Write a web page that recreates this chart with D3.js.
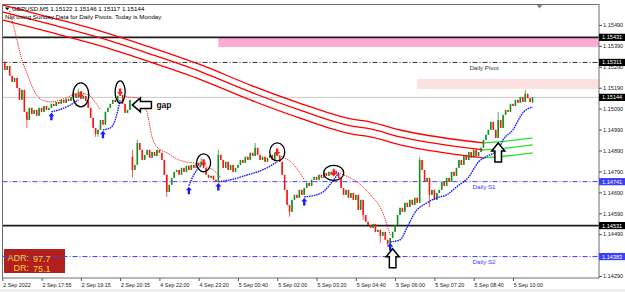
<!doctype html>
<html>
<head>
<meta charset="utf-8">
<title>GBPUSD M5</title>
<style>
    html, body { margin: 0; padding: 0; background: #fff; }
    svg { display: block; font-family: "Liberation Sans", Arial, sans-serif; }
</style>
</head>
<body>
<svg id="chart" width="625" height="292"></svg>

<script src="https://d3js.org/d3.v7.min.js"></script>
<script>

    /* --- data --- */

    var symbol = 'GBPUSD,M5';
    var lastOhlc = [1.15122, 1.15146, 1.15117, 1.15144];
    var notice = 'Not using Sunday Data for Daily Pivots.  Today is Monday';
    var adr = 97.7, dr = 75.1;

    // M5 closes, bar 0 = 2 Sep 16:35, weekend gap after bar 52
    var closes = [
        1.15314, 1.15275, 1.15294, 1.15247, 1.15218, 1.15237, 1.15189, 1.15132, 1.15180, 1.15075,
        1.15036, 1.15094, 1.15065, 1.15084, 1.15056, 1.15094, 1.15075, 1.15103, 1.15084, 1.15094,
        1.15113, 1.15103, 1.15122, 1.15113, 1.15132, 1.15118, 1.15137, 1.15127, 1.15146, 1.15161,
        1.15142, 1.15165, 1.15137, 1.15151, 1.15127, 1.15094, 1.15046, 1.14998, 1.14969, 1.14989,
        1.15036, 1.15013, 1.15075, 1.15094, 1.15113, 1.15132, 1.15122, 1.15151, 1.15156, 1.15113,
        1.15070, 1.15084, 1.15132, 1.14797, 1.14821, 1.14926, 1.14893, 1.14845, 1.14869, 1.14893,
        1.14855, 1.14883, 1.14864, 1.14893, 1.14879, 1.14845, 1.14774, 1.14692, 1.14726, 1.14759,
        1.14788, 1.14797, 1.14774, 1.14807, 1.14788, 1.14817, 1.14797, 1.14821, 1.14807, 1.14831,
        1.14817, 1.14836, 1.14807, 1.14774, 1.14759, 1.14769, 1.14750, 1.14740, 1.14869, 1.14845,
        1.14807, 1.14836, 1.14797, 1.14821, 1.14788, 1.14807, 1.14821, 1.14845, 1.14831, 1.14860,
        1.14845, 1.14879, 1.14864, 1.14903, 1.14869, 1.14845, 1.14860, 1.14836, 1.14855, 1.14869,
        1.14845, 1.14879, 1.14864, 1.14836, 1.14774, 1.14702, 1.14630, 1.14597, 1.14654, 1.14678,
        1.14664, 1.14702, 1.14678, 1.14711, 1.14735, 1.14721, 1.14750, 1.14764, 1.14750, 1.14774,
        1.14759, 1.14783, 1.14769, 1.14788, 1.14774, 1.14793, 1.14778, 1.14759, 1.14711, 1.14678,
        1.14702, 1.14664, 1.14687, 1.14654, 1.14678, 1.14606, 1.14654, 1.14582, 1.14549, 1.14534,
        1.14520, 1.14539, 1.14501, 1.14511, 1.14482, 1.14501, 1.14463, 1.14444, 1.14472, 1.14501,
        1.14534, 1.14582, 1.14616, 1.14597, 1.14640, 1.14620, 1.14654, 1.14630, 1.14664, 1.14640,
        1.14845, 1.14797, 1.14740, 1.14759, 1.14678, 1.14702, 1.14654, 1.14687, 1.14702, 1.14740,
        1.14721, 1.14759, 1.14740, 1.14788, 1.14769, 1.14807, 1.14845, 1.14821, 1.14869, 1.14845,
        1.14883, 1.14855, 1.14893, 1.14864, 1.14883, 1.14903, 1.14941, 1.14965, 1.14989, 1.15027,
        1.14989, 1.14950, 1.15036, 1.14998, 1.15060, 1.15084, 1.15075, 1.15113, 1.15103, 1.15132,
        1.15118, 1.15146, 1.15122, 1.15161, 1.15140, 1.15122, 1.15144
    ];
    // opens equal the previous close except where noted
    var openAt = {0: 1.15419, 53: 1.14860};
    var highAt = {0: 1.15428, 29: 1.15180, 31: 1.15185, 48: 1.15180, 53: 1.14893, 55: 1.14941, 81: 1.14855,
                  88: 1.14893, 103: 1.14926, 112: 1.14893, 135: 1.14807, 170: 1.14860, 202: 1.15075,
                  213: 1.15180, 216: 1.15146};
    var lowAt = {0: 1.15304, 10: 1.14998, 38: 1.14955, 39: 1.14955, 53: 1.14759, 67: 1.14668, 117: 1.14573,
                 147: 1.14558, 154: 1.14448, 157: 1.14429, 174: 1.14620, 216: 1.15117};

    var timeTicks = [0, 16, 32, 48, 64, 80, 96, 112, 128, 144, 160, 176, 192, 208];
    var timeLabels = ['2 Sep 2022', '2 Sep 17:55', '2 Sep 19:15', '2 Sep 20:35', '4 Sep 22:00', '4 Sep 23:20',
                      '5 Sep 00:40', '5 Sep 02:00', '5 Sep 03:20', '5 Sep 04:40', '5 Sep 06:00', '5 Sep 07:20',
                      '5 Sep 08:40', '5 Sep 10:00'];
    var priceTicks = [1.14290, 1.14390, 1.14490, 1.14590, 1.14690, 1.14790, 1.14890,
                      1.14990, 1.15090, 1.15190, 1.15290, 1.15390, 1.15490];

    var pivotNames = ['Daily Pivot', 'Daily S1', 'Daily S2'];
    var pivotPrices = [1.15311, 1.14741, 1.14383];
    var srLines = [1.15431, 1.14531];
    var lastPrice = 1.15144;
    var zoneTop = [1.15431, 1.15232];
    var zoneBottom = [1.15385, 1.15184];
    var zoneStartBar = [88, 169];

    // three envelope lines, sampled
    var maBars   = [0, 19, 40, 60, 81, 101, 121, 142, 150, 162, 183, 196, 206, 216];
    var maUpper  = [1.15586, 1.15528, 1.15461, 1.15385, 1.15299, 1.15203, 1.15117, 1.15041, 1.15026, 1.14988, 1.14945, 1.14926, 1.14936, 1.14950];
    var maMiddle = [1.15553, 1.15495, 1.15428, 1.15352, 1.15266, 1.15170, 1.15084, 1.15008, 1.14993, 1.14955, 1.14912, 1.14893, 1.14903, 1.14917];
    var maLower  = [1.15515, 1.15457, 1.15390, 1.15314, 1.15228, 1.15132, 1.15046, 1.14970, 1.14955, 1.14917, 1.14874, 1.14855, 1.14865, 1.14879];
    var maTurnBar = 196;

    // trailing stops: [bar, price]
    var redTrail = [
        [[3, 1.15557], [5, 1.15467], [8, 1.15323], [10, 1.15261], [12, 1.15199], [16, 1.15132], [20, 1.15122],
         [26, 1.15142], [31, 1.15165], [35, 1.15156], [38, 1.15118], [40, 1.15084]],
        [[48, 1.15156], [51, 1.15146], [55, 1.15142], [57, 1.15108], [59, 1.15070], [61, 1.14955], [63, 1.14907],
         [67, 1.14879], [72, 1.14845], [78, 1.14831]],
        [[82, 1.14831], [83, 1.14812], [86, 1.14797], [89, 1.14759]],
        [[112, 1.14869], [114, 1.14860], [118, 1.14831], [123, 1.14750]],
        [[136, 1.14788], [139, 1.14774], [145, 1.14735], [150, 1.14678], [155, 1.14592], [158, 1.14486]]
    ];
    var blueTrail = [
        [[20, 1.15075], [23, 1.15084], [27, 1.15103], [31, 1.15132]],
        [[41, 1.14989], [44, 1.14998], [46, 1.15036], [48, 1.15132]],
        [[76, 1.14721], [78, 1.14774], [81, 1.14817]],
        [[88, 1.14740], [93, 1.14750], [100, 1.14774], [106, 1.14797], [112, 1.14836]],
        [[123, 1.14668], [130, 1.14687], [134, 1.14735], [137, 1.14783]],
        [[158, 1.14453], [162, 1.14463], [165, 1.14525], [168, 1.14592], [173, 1.14640], [177, 1.14664],
         [181, 1.14678], [185, 1.14716], [190, 1.14764], [194, 1.14836], [197, 1.14860], [202, 1.14893],
         [204, 1.14941], [208, 1.14989], [212, 1.15070], [216, 1.15098]]
    ];

    var sellBars = [32, 48, 82, 112, 135];
    var sellPrices = [1.15156, 1.15170, 1.14831, 1.14883, 1.14783];
    var gapBar = 53, gapPrice = 1.15108;
    var upArrowBars = [159, 202];
    var upArrowPrices = [1.14420, 1.14926];

    /* --- layout & styles --- */

    var plot = {left: 2.5, top: 4.5, right: 599, bottom: 278};
    var zoneColors = ['#ffaad4', '#fde1e1'];
    var pivotColors = ['#333333', '#3d3dff', '#3d3dff'];
    var circleRx = [8, 5, 7, 7.5, 10];
    var circleRy = [12, 11, 9, 9, 7.5];
    var bull = '#13921a', bear = '#ff1414';

    var svg = d3.select('#chart');

    var x = d3.scaleLinear().domain([0, closes.length - 1]).range([2.3, 2.3 + 2.455 * (closes.length - 1)]);
    var y = d3.scaleLinear().domain([1.14290, 1.15490]).range([276, 25]);

    svg.append('rect').attr('width', 625).attr('height', 292).attr('fill', '#fff');
    svg.append('rect').attr('x', 0).attr('y', 289).attr('width', 625).attr('height', 3).attr('fill', '#ececec');

    svg.append('defs').append('clipPath').attr('id', 'plotClip').append('rect')
        .attr('x', plot.left).attr('y', plot.top)
        .attr('width', plot.right - plot.left).attr('height', plot.bottom - plot.top);

    var g = svg.append('g').attr('clip-path', 'url(#plotClip)');

    // zones
    zoneTop.forEach(function(top, i){
        g.append('rect')
            .attr('x', x(zoneStartBar[i])).attr('y', y(top))
            .attr('width', plot.right - x(zoneStartBar[i]))
            .attr('height', y(zoneBottom[i]) - y(top))
            .attr('fill', zoneColors[i]);
    });

    // ADR box (sits under the level lines)
    g.append('rect').attr('x', 4).attr('y', 249).attr('width', 61).attr('height', 24).attr('fill', '#b21f1f');

    // level lines
    g.append('line').attr('x1', plot.left).attr('x2', plot.right)
        .attr('y1', y(lastPrice)).attr('y2', y(lastPrice))
        .attr('stroke', '#c8c8c8').attr('stroke-width', 1);

    srLines.forEach(function(p){
        g.append('line').attr('x1', plot.left).attr('x2', plot.right)
            .attr('y1', y(p)).attr('y2', y(p))
            .attr('stroke', '#1c1c1c').attr('stroke-width', 1.6);
    });

    pivotPrices.forEach(function(p, i){
        g.append('line').attr('x1', plot.left).attr('x2', plot.right)
            .attr('y1', y(p)).attr('y2', y(p))
            .attr('stroke', pivotColors[i]).attr('stroke-width', 1)
            .attr('stroke-dasharray', '5,2,1,2');
        g.append('text').attr('x', 484).attr('y', y(p) + 7.5)
            .attr('text-anchor', 'middle').attr('font-size', 6.2)
            .attr('fill', pivotColors[i]).text(pivotNames[i]);
    });

    // envelope
    var curve = d3.line().x(function(d){ return x(d[0]); }).y(function(d){ return y(d[1]); }).curve(d3.curveMonotoneX);
    [maUpper, maMiddle, maLower].forEach(function(series){
        var pts = maBars.map(function(b, i){ return [b, series[i]]; });
        g.append('path').datum(pts.filter(function(d){ return d[0] <= maTurnBar; }))
            .attr('d', curve).attr('fill', 'none').attr('stroke', '#ff0000').attr('stroke-width', 1.3);
        g.append('path').datum(pts.filter(function(d){ return d[0] >= maTurnBar; }))
            .attr('d', curve).attr('fill', 'none').attr('stroke', '#2be02b').attr('stroke-width', 1.3);
    });

    // candles
    var candles = closes.map(function(c, k){
        var o = (k in openAt) ? openAt[k] : closes[k - 1];
        var h = (k in highAt) ? highAt[k] : Math.max(o, c);
        var l = (k in lowAt) ? lowAt[k] : Math.min(o, c);
        return {k: k, o: o, h: h, l: l, c: c};
    });

    var cg = g.append('g').selectAll('g').data(candles).enter().append('g');
    cg.append('line')
        .attr('x1', function(d){ return x(d.k); }).attr('x2', function(d){ return x(d.k); })
        .attr('y1', function(d){ return y(d.h); }).attr('y2', function(d){ return y(d.l); })
        .attr('stroke', function(d){ return d.c >= d.o ? bull : bear; }).attr('stroke-width', 0.7);
    cg.append('rect')
        .attr('x', function(d){ return x(d.k) - 0.8; }).attr('width', 1.6)
        .attr('y', function(d){ return y(Math.max(d.o, d.c)); })
        .attr('height', function(d){ return Math.max(0.8, Math.abs(y(d.o) - y(d.c))); })
        .attr('fill', function(d){ return d.c >= d.o ? bull : bear; });

    // trailing stops
    redTrail.forEach(function(seg){
        g.append('path').datum(seg).attr('d', curve).attr('fill', 'none')
            .attr('stroke', '#ff2020').attr('stroke-width', 1).attr('stroke-dasharray', '1.2,0.9');
    });
    blueTrail.forEach(function(seg){
        g.append('path').datum(seg).attr('d', curve).attr('fill', 'none')
            .attr('stroke', '#1a1aff').attr('stroke-width', 1.4).attr('stroke-dasharray', '1.6,0.8');
        // buy arrow under the start of each segment
        var ax = x(seg[0][0]), ay = y(seg[0][1]) + 1;
        g.append('path')
            .attr('d', 'M' + ax + ',' + ay + 'l3,3.5h-1.8v4h-2.4v-4h-1.8z')
            .attr('fill', '#1a1aff');
    });

    // sell signals
    sellBars.forEach(function(b, i){
        var cx = x(b), cy = y(sellPrices[i]);
        g.append('path')
            .attr('d', 'M' + cx + ',' + (cy + 3.5) + 'l-3,-3.5h1.8v-3.5h2.4v3.5h1.8z')
            .attr('fill', '#ff1a1a');
        g.append('ellipse').attr('cx', cx).attr('cy', cy)
            .attr('rx', circleRx[i]).attr('ry', circleRy[i])
            .attr('fill', 'none').attr('stroke', '#000').attr('stroke-width', 1.3);
    });

    // outline arrows
    var gx = x(gapBar), gy = y(gapPrice);
    g.append('path')
        .attr('d', 'M' + gx + ',' + gy + 'l8,-7v3.5h11v7h-11v3.5z')
        .attr('fill', '#fff').attr('stroke', '#000').attr('stroke-width', 1.5);
    svg.append('text').attr('x', gx + 24).attr('y', gy + 3)
        .attr('font-size', 8.5).attr('font-weight', 'bold').attr('fill', '#111').text('gap');

    upArrowBars.forEach(function(b, i){
        var ux = x(b), uy = y(upArrowPrices[i]);
        g.append('path')
            .attr('d', 'M' + ux + ',' + uy + 'l6.5,8h-3.2v11h-6.6v-11h-3.2z')
            .attr('fill', '#fff').attr('stroke', '#000').attr('stroke-width', 1.5);
    });

    // frame
    svg.append('rect').attr('x', plot.left).attr('y', plot.top)
        .attr('width', plot.right - plot.left).attr('height', plot.bottom - plot.top)
        .attr('fill', 'none').attr('stroke', '#6e6e6e').attr('stroke-width', 1);
    svg.append('path').attr('d', 'M536.5,5l3,3.5l3,-3.5z').attr('fill', '#8a8a8a');

    // axes
    var yAxis = d3.axisRight(y).tickValues(priceTicks).tickSize(3).tickPadding(1)
        .tickFormat(function(d){ return d.toFixed(5); });
    var ya = svg.append('g').attr('transform', 'translate(' + plot.right + ',0)').call(yAxis);
    ya.select('.domain').remove();
    ya.selectAll('text').attr('font-size', 5.6).attr('font-family', 'Liberation Sans, Arial, sans-serif').attr('fill', '#222');
    ya.selectAll('line').attr('stroke', '#555');

    var xAxis = d3.axisBottom(x).tickValues(timeTicks).tickSize(3).tickPadding(2)
        .tickFormat(function(d, i){ return timeLabels[i]; });
    var xa = svg.append('g').attr('transform', 'translate(0,' + plot.bottom + ')').call(xAxis);
    xa.select('.domain').remove();
    xa.selectAll('text').attr('font-size', 5.4).attr('text-anchor', 'start').attr('dx', 0.4)
        .attr('font-family', 'Liberation Sans, Arial, sans-serif').attr('fill', '#222');
    xa.selectAll('line').attr('stroke', '#555');

    // price boxes on the right
    var boxPrices = [srLines[0], pivotPrices[0], lastPrice, pivotPrices[1], srLines[1], pivotPrices[2]];
    var boxColors = ['#000', '#000', '#000', '#3d3dff', '#000', '#3d3dff'];
    boxPrices.forEach(function(p, i){
        svg.append('rect').attr('x', plot.right).attr('y', y(p) - 3.6)
            .attr('width', 625 - plot.right).attr('height', 7.2).attr('fill', boxColors[i]);
        svg.append('text').attr('x', plot.right + 3).attr('y', y(p) + 2)
            .attr('font-size', 5.6).attr('fill', '#fff').text(p.toFixed(5));
    });

    // header
    svg.append('path').attr('d', 'M5,7.5h4.5l-2.25,2.8z').attr('fill', '#000');
    svg.append('text').attr('x', 12).attr('y', 10.5).attr('font-size', 6.2).attr('fill', '#000')
        .text(symbol + '  ' + lastOhlc.map(function(v){ return v.toFixed(5); }).join(' '));
    svg.append('text').attr('x', 5).attr('y', 19).attr('font-size', 6.2).attr('fill', '#000')
        .text(notice);

    // ADR text
    var adrColor = '#ffcf2a';
    svg.append('text').attr('x', 29).attr('y', 261).attr('text-anchor', 'end')
        .attr('font-size', 9).attr('fill', adrColor).text('ADR:');
    svg.append('text').attr('x', 33).attr('y', 261.5)
        .attr('font-size', 9).attr('fill', adrColor).text(adr.toFixed(1));
    svg.append('text').attr('x', 29).attr('y', 271).attr('text-anchor', 'end')
        .attr('font-size', 9).attr('fill', adrColor).text('DR:');
    svg.append('text').attr('x', 33).attr('y', 271.5)
        .attr('font-size', 9).attr('fill', adrColor).text(dr.toFixed(1));

</script>
</body>
</html>
